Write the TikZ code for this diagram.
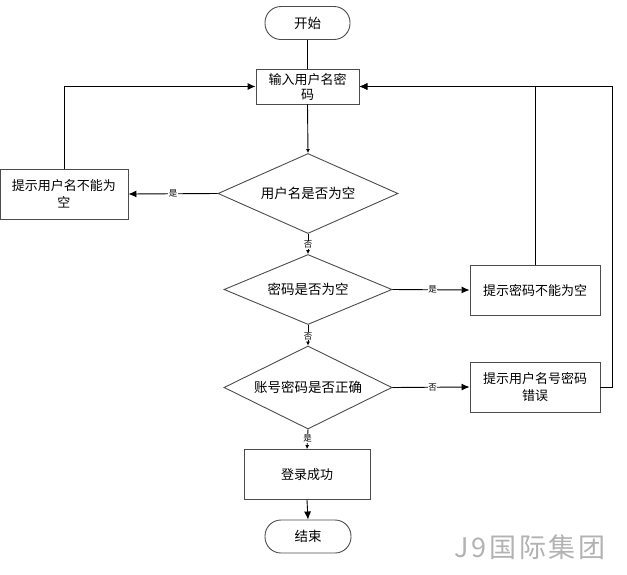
\documentclass[tikz,border=0pt]{standalone}
\usepackage{fontspec}
\setmainfont{Noto Sans CJK SC}
\usetikzlibrary{shapes.geometric,arrows.meta}
\begin{document}
\begin{tikzpicture}[x=1pt,y=-1pt,
  shapeline/.style={draw=black!70, line width=0.9pt},
  term/.style={shapeline, rounded corners=16pt, minimum width=85pt, minimum height=33pt, inner sep=0pt, font=\fontsize{13.5}{16}\selectfont},
  procbox/.style={shapeline, minimum width=#1, minimum height=50pt, inner sep=0pt, align=center, font=\fontsize{13}{17}\selectfont},
  decision/.style={shapeline, diamond, inner sep=0pt, font=\fontsize{13.5}{16}\selectfont},
  conn/.style={draw=black, line width=0.9pt},
  arr/.style={conn, -{Latex[length=8pt,width=7pt]}},
  sarr/.style={conn, -{Latex[length=4pt,width=4pt]}},
  lbl/.style={fill=white, inner sep=0.5pt, font=\fontsize{8.5}{9}\selectfont}
]
\useasboundingbox (0,0) rectangle (627,574);

\node[term] (start) at (307.5,23) {开始};
\node[procbox=103pt, minimum height=35pt, font=\fontsize{13}{15}\selectfont] (input) at (307.5,86.5) {输入用户名密\\码};
\node[decision, shape aspect=2.25, minimum width=180pt, minimum height=80pt] (d1) at (308,193.5) {用户名是否为空};
\node[procbox=128pt] (b1) at (64,194) {提示用户名不能为\\空};
\node[decision, shape aspect=2.4, minimum width=168pt, minimum height=70pt] (d2) at (308,289.5) {密码是否为空};
\node[procbox=130pt] (b2) at (535,290) {提示密码不能为空};
\node[decision, shape aspect=2.0, minimum width=168pt, minimum height=83pt] (d3) at (308,387.5) {账号密码是否正确};
\node[procbox=130pt] (b3) at (535,387) {提示用户名号密码\\错误};
\node[procbox=126pt] (ok) at (307,474.5) {登录成功};
\node[term, minimum width=86pt] (end) at (308,536.5) {结束};
\node[text=black!30, font=\fontsize{27}{29}\selectfont\addfontfeatures{LetterSpace=10}] (wm) at (530,547) {J9国际集团};

\draw[conn] (start.south) -- (input.north);
\draw[sarr] (input.south) -- (d1.north);
\draw[arr] (d1.west) -- node[lbl, pos=0.5] {是} (b1.east);
\draw[arr] (b1.north) |- (input.west);
\draw[sarr] (d1.south) -- node[lbl, pos=0.55] {否} (d2.north);
\draw[arr] (d2.east) -- node[lbl, pos=0.52] {是} (b2.west);
\draw[arr] (b2.north) |- (input.east);
\draw[sarr] (d2.south) -- node[lbl, pos=0.55] {否} (d3.north);
\draw[arr] (d3.east) -- node[lbl, pos=0.52] {否} (b3.west);
\coordinate (rc) at (612,387);
\draw[arr] (b3.east) -- (rc) |- (input.east);
\draw[sarr] (d3.south) -- node[lbl, pos=0.45] {是} (ok.north);
\draw[arr] (ok.south) -- (end.north);
\end{tikzpicture}
\end{document}
